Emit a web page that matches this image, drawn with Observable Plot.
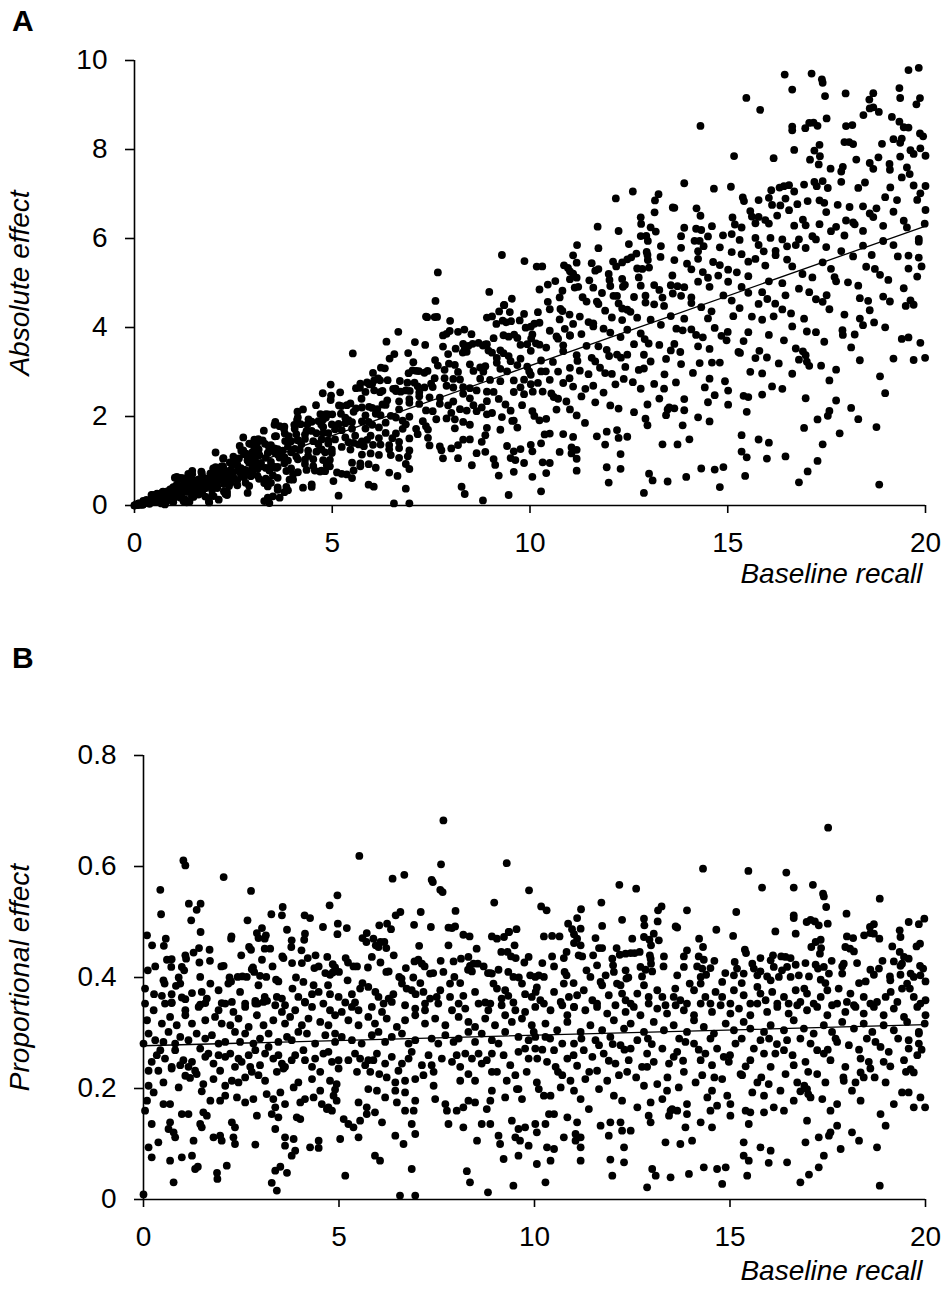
<!DOCTYPE html>
<html>
<head>
<meta charset="utf-8">
<script src="https://cdn.jsdelivr.net/npm/d3@7"></script>
<script src="https://cdn.jsdelivr.net/npm/@observablehq/plot@0.6"></script>
<style>
  html, body { margin: 0; padding: 0; background: #fff; }
  #wrap { position: relative; width: 946px; height: 1294px; background: #fff; font-family: "Liberation Sans", Arial, sans-serif; }
  .panel { position: absolute; left: 0; }
  .letter { position: absolute; left: 12px; font-weight: bold; font-size: 30px; line-height: 1; color: #000; z-index: 5; }
</style>
</head>
<body>
<div id="wrap">
  <div id="pa" class="panel" style="top:0px"></div>
  <div id="pb" class="panel" style="top:700px"></div>
  <div class="letter" style="top:6px">A</div>
  <div class="letter" style="top:643px">B</div>
</div>
<script>
// Tick labels
const xTicks = [0, 5, 10, 15, 20];
const yTicksAbsolute = [0, 2, 4, 6, 8, 10];
const yTicksProportional = [0, 0.2, 0.4, 0.6, 0.8];

// Fitted regression lines (end points)
const fitRecall = [0, 20];
const fitAbsolute = [0.0, 6.28];
const fitProportional = [0.277, 0.315];

// Participants: baseline recall and proportional effect
const recall1 = [7.67,5.52,1.02,1.07,7.61,9.29,2.05,6.37,6.67,7.37,7.40,7.59,7.65,0.43,2.75,9.86,4.96,4.76,1.16,1.46,1.36,8.97,0.45,3.56,3.54,3.27,4.12,4.26,7.98,6.45,6.57,7.09,2.66,1.22,4.97,4.96,5.20,4.59,6.03,6.23,6.33,6.92,7.35,7.80,7.97,7.89,9.54,9.34];
const prop1 = [0.683,0.619,0.611,0.602,0.604,0.606,0.581,0.578,0.585,0.576,0.572,0.558,0.554,0.558,0.556,0.557,0.548,0.530,0.533,0.533,0.522,0.535,0.514,0.527,0.512,0.514,0.512,0.507,0.520,0.512,0.518,0.518,0.503,0.503,0.497,0.478,0.489,0.491,0.494,0.497,0.487,0.495,0.491,0.490,0.492,0.489,0.487,0.482];
const recall2 = [0.09,0.57,1.46,2.90,3.03,3.13,2.94,3.10,2.25,2.24,3.67,4.13,4.11,3.79,5.60,5.71,5.70,5.88,5.94,6.06,6.16,6.21,6.01,8.18,8.34,8.91,9.04,9.22,9.35,7.80,7.05,0.22,0.52,1.42,1.28,1.69,2.70,2.75,3.10,3.24,3.78,4.04,9.49,9.15,9.31,9.40,9.52,8.52];
const prop2 = [0.476,0.470,0.482,0.480,0.489,0.476,0.471,0.470,0.474,0.470,0.486,0.479,0.468,0.467,0.471,0.480,0.464,0.470,0.458,0.464,0.464,0.453,0.455,0.477,0.474,0.474,0.470,0.473,0.482,0.458,0.457,0.458,0.457,0.453,0.445,0.450,0.455,0.450,0.452,0.452,0.455,0.449,0.458,0.446,0.446,0.438,0.435,0.452];
const recall3 = [1.07,1.09,0.60,0.72,0.71,1.43,1.99,2.05,2.77,2.80,3.03,3.55,3.58,3.80,4.05,4.20,4.37,4.48,4.70,4.84,4.90,4.84,5.17,5.23,5.37,5.46,5.84,5.74,6.06,6.21,6.27,6.71,6.93,7.03,7.12,7.19,7.93,8.12,8.31,8.35,8.30,8.44,8.55,8.40,8.91,8.81,9.08,9.74,9.85,9.33];
const prop3 = [0.440,0.434,0.432,0.433,0.419,0.427,0.420,0.421,0.415,0.418,0.432,0.438,0.435,0.426,0.426,0.435,0.417,0.420,0.437,0.424,0.418,0.409,0.435,0.427,0.420,0.420,0.437,0.418,0.427,0.410,0.411,0.417,0.429,0.432,0.425,0.420,0.429,0.434,0.437,0.421,0.414,0.425,0.425,0.411,0.407,0.408,0.414,0.427,0.437,0.410];
const recall4 = [0.11,0.51,0.54,1.45,0.98,1.04,2.41,2.53,2.64,2.83,2.98,3.14,3.39,3.45,4.65,4.77,5.22,6.54,6.60,7.33,7.41,7.67,7.95,8.87,9.46,9.89,10.02];
const prop4 = [0.413,0.395,0.389,0.401,0.419,0.413,0.401,0.402,0.401,0.410,0.403,0.401,0.396,0.393,0.408,0.405,0.395,0.401,0.398,0.407,0.408,0.410,0.401,0.408,0.401,0.404,0.401];
const recall5 = [0.04,0.27,0.47,0.72,0.72,0.83,0.94,1.24,0.98,1.07,1.49,1.45,1.62,1.71,1.92,2.00,2.26,2.17,2.24,2.47,2.60,2.86,2.92,3.10,3.16,2.94,3.41,3.54,3.62,3.81,3.96,4.09,4.13,4.31,4.48,4.35,4.72,4.77,4.99,5.16,5.33,5.41];
const prop5 = [0.380,0.370,0.367,0.370,0.355,0.385,0.389,0.372,0.364,0.361,0.374,0.351,0.362,0.389,0.377,0.354,0.356,0.389,0.393,0.374,0.353,0.358,0.353,0.365,0.358,0.386,0.365,0.362,0.350,0.380,0.365,0.392,0.355,0.370,0.374,0.386,0.386,0.370,0.365,0.355,0.370,0.355];
const recall6 = [5.54,5.75,5.93,6.01,6.14,6.27,6.39,6.61,6.73,6.86,6.96,7.16,7.20,7.33,7.08,7.50,7.59,7.84,7.84,8.06,8.18,8.48,8.74,8.87,8.95,9.04,9.25,9.16,9.33,9.46,9.68,9.76,9.93,10.06];
const prop6 = [0.380,0.383,0.374,0.365,0.353,0.362,0.370,0.389,0.380,0.377,0.370,0.374,0.353,0.362,0.390,0.365,0.377,0.389,0.365,0.353,0.367,0.374,0.355,0.353,0.389,0.380,0.377,0.362,0.367,0.355,0.389,0.370,0.365,0.382];
const recall7 = [0.04,0.26,0.55,0.72,1.07,1.41,1.58,1.92,2.09,2.30,2.60,2.86,3.07,3.37,3.54,3.88,4.13,4.31,4.60,4.77,5.07,5.33,5.50,5.84,6.10,6.35,6.69,6.95,7.20,7.54,7.89,8.23,8.57,8.82,9.16,9.51,9.76,10.02];
const prop7 = [0.353,0.341,0.353,0.354,0.341,0.347,0.354,0.341,0.353,0.338,0.347,0.353,0.356,0.350,0.338,0.341,0.356,0.347,0.353,0.341,0.338,0.347,0.341,0.347,0.338,0.356,0.350,0.344,0.341,0.353,0.341,0.344,0.353,0.341,0.350,0.341,0.338,0.347];
const recall8 = [0.09,0.47,0.68,0.85,1.07,1.24,1.58,1.83,2.00,2.22,2.43,2.69,2.90,3.07,3.32,3.62,3.75,4.05,4.22,4.52,4.73,4.90,5.24,5.50,5.75,5.92,6.22,6.48,6.69,6.95,7.20,7.46,7.72,8.06,8.31,8.48,8.74,8.99,9.25,9.42,9.68,9.93];
const prop8 = [0.323,0.317,0.329,0.314,0.332,0.317,0.323,0.329,0.317,0.314,0.326,0.311,0.332,0.314,0.323,0.317,0.329,0.314,0.326,0.320,0.314,0.332,0.323,0.314,0.329,0.317,0.326,0.311,0.323,0.332,0.317,0.326,0.314,0.329,0.320,0.311,0.326,0.314,0.332,0.320,0.326,0.314];
const recall9 = [0.13,0.30,0.64,0.94,1.36,1.58,1.75,2.09,2.34,2.60,2.98,3.20,3.45,3.67,3.96,4.18,4.65,4.90,5.07,5.33,5.84,6.01,6.35,6.61,6.95,7.37,7.72,8.06,8.31,8.65,8.91,9.25,9.59,9.85];
const prop9 = [0.299,0.287,0.302,0.293,0.299,0.290,0.296,0.284,0.302,0.299,0.290,0.299,0.284,0.293,0.302,0.299,0.296,0.299,0.293,0.287,0.296,0.302,0.293,0.299,0.287,0.290,0.296,0.290,0.302,0.299,0.287,0.302,0.293,0.287];
const recall10 = [0.21,0.43,0.55,0.72,0.94,1.15,1.24,1.45,1.66,1.92,2.09,2.34,2.43,2.73,2.86,3.20,3.32,3.54,3.79,4.09,4.13,4.31,4.60,4.82,4.99,5.41,5.54,5.75,5.97,6.18,6.61,6.86,7.12,7.63,7.89,8.23,8.40,8.57,8.65,8.91,9.04,9.59,9.85,10.02];
const prop10 = [0.248,0.269,0.254,0.239,0.242,0.239,0.248,0.272,0.263,0.260,0.257,0.239,0.254,0.239,0.269,0.275,0.254,0.245,0.251,0.269,0.251,0.239,0.263,0.248,0.251,0.263,0.254,0.251,0.263,0.245,0.245,0.266,0.242,0.254,0.248,0.263,0.254,0.263,0.245,0.263,0.230,0.266,0.254,0.272];
const recall11 = [0.13,0.13,0.38,0.51,0.72,0.90,1.07,1.19,1.36,1.53,1.79,1.96,2.09,2.26,2.43,2.60,2.77,2.94,3.11,3.41,3.58,3.84,3.96,4.31,4.52,4.77,4.94,4.90,5.46,5.80,6.03,6.22,6.44,6.69,6.95,7.16,7.42,7.42,8.10,8.31,8.48,8.91,9.29,9.51,9.55,9.80,10.06];
const prop11 = [0.232,0.205,0.232,0.211,0.236,0.202,0.223,0.219,0.226,0.208,0.217,0.232,0.205,0.214,0.211,0.220,0.230,0.224,0.214,0.230,0.236,0.202,0.211,0.217,0.196,0.214,0.208,0.198,0.230,0.230,0.226,0.220,0.211,0.214,0.217,0.224,0.230,0.205,0.214,0.226,0.214,0.230,0.214,0.224,0.199,0.230,0.211];
const recall12 = [0.09,0.26,0.51,0.68,0.98,1.15,1.49,1.71,1.96,2.09,2.39,2.60,2.81,3.15,3.32,3.50,3.37,3.62,4.01,4.13,4.35,4.56,4.73,4.86,4.94,4.82,5.50,5.75,5.71,5.97,6.18,6.48,6.44,6.69,6.91,6.95,7.46,7.72,7.76,8.01,8.18,8.31,8.48,8.78,8.87,8.91,9.25,9.59,9.68];
const prop12 = [0.178,0.193,0.172,0.172,0.154,0.154,0.195,0.178,0.178,0.187,0.184,0.175,0.181,0.190,0.181,0.193,0.166,0.172,0.175,0.181,0.184,0.172,0.166,0.187,0.178,0.160,0.175,0.199,0.166,0.196,0.184,0.175,0.196,0.193,0.160,0.178,0.181,0.172,0.160,0.160,0.166,0.178,0.175,0.163,0.178,0.196,0.184,0.199,0.181];
const recall13 = [0.21,0.04,0.68,0.77,1.45,1.53,1.62,1.49,2.26,2.34,2.90,3.28,3.45,3.92,4.01,4.69,5.12,5.24,5.37,5.54,5.71,5.92,6.10,6.69,6.86,6.95,7.80,8.18,8.65,8.87,9.42,9.76,10.02,0.81,0.64,1.79,1.96,2.00,2.30,3.37,3.62,3.84,5.03,5.50,6.44,9.08,9.51,9.59,10.06];
const prop13 = [0.136,0.160,0.139,0.121,0.136,0.157,0.151,0.130,0.139,0.130,0.151,0.154,0.148,0.148,0.145,0.163,0.145,0.136,0.130,0.142,0.154,0.157,0.139,0.160,0.136,0.118,0.136,0.130,0.136,0.136,0.142,0.130,0.136,0.112,0.127,0.112,0.115,0.106,0.112,0.127,0.112,0.109,0.109,0.112,0.115,0.115,0.112,0.127,0.121];
const recall14 = [0.13,0.38,1.28,1.24,2.34,2.86,3.62,3.79,3.88,4.26,4.48,4.48,6.65,8.53,9.12,9.63,9.85,0.21,0.98,0.68,1.32,2.13,5.92,6.05,9.21,9.59,10.06];
const prop14 = [0.094,0.103,0.106,0.079,0.100,0.099,0.097,0.079,0.088,0.094,0.093,0.106,0.100,0.106,0.100,0.106,0.097,0.076,0.076,0.070,0.055,0.061,0.079,0.070,0.073,0.079,0.064];
const recall15 = [1.39,1.88,1.89,0.77,3.37,3.50,3.67,3.28,3.41,5.16,6.86,8.27,8.35,9.46,8.81,6.56,6.95,0.00];
const prop15 = [0.059,0.048,0.037,0.031,0.052,0.059,0.048,0.030,0.016,0.043,0.055,0.051,0.031,0.025,0.013,0.007,0.007,0.009];
const recall16 = [17.51,14.31,15.47,16.44,12.17,12.60,15.82,16.63,17.12,17.38,17.40,18.83,11.71,10.17,10.31,11.19,13.90,15.16,17.46,17.98,13.16,13.25,12.24,12.80,12.81,13.15,11.09,10.86,11.18,10.96,11.01,11.09,11.73];
const prop16 = [0.670,0.596,0.592,0.589,0.567,0.560,0.562,0.562,0.567,0.551,0.546,0.542,0.535,0.528,0.521,0.523,0.521,0.518,0.527,0.515,0.521,0.528,0.504,0.506,0.494,0.501,0.507,0.497,0.488,0.487,0.478,0.470,0.493];
const recall17 = [16.63,16.63,16.96,17.06,17.17,17.27,17.50,19.57,19.83,19.97,18.58,18.68,19.34,13.61,13.65,14.65,16.16,16.68,15.08,10.24,10.45,10.64,11.56,12.50,12.80,12.94,13.05,13.18,12.98,14.21,18.43,18.59,18.68,18.82,17.99,18.15,19.36];
const prop17 = [0.512,0.507,0.500,0.504,0.501,0.494,0.497,0.500,0.496,0.506,0.491,0.496,0.485,0.492,0.490,0.486,0.483,0.479,0.475,0.474,0.475,0.474,0.471,0.470,0.473,0.468,0.479,0.467,0.458,0.470,0.476,0.480,0.479,0.470,0.474,0.471,0.473];
const recall18 = [17.19,17.32,17.33,17.30,11.18,11.01,11.13,11.22,10.82,10.75,11.65,11.73,10.45,12.10,12.18,12.33,12.46,12.56,12.69,12.95,12.97,13.31,14.31,14.20,14.33,13.82,13.90,15.38,15.41,15.78,16.04,16.31,16.42,16.55,17.08,17.95,18.07,18.17,19.15,19.77,19.86,19.34,19.45,19.57,19.36,19.40,19.19,19.86];
const prop18 = [0.464,0.468,0.453,0.443,0.458,0.462,0.440,0.438,0.446,0.435,0.453,0.453,0.438,0.453,0.441,0.443,0.444,0.444,0.446,0.440,0.434,0.438,0.455,0.438,0.432,0.438,0.449,0.450,0.444,0.435,0.431,0.438,0.437,0.435,0.455,0.455,0.452,0.447,0.456,0.456,0.461,0.446,0.437,0.434,0.421,0.425,0.429,0.421];
const recall19 = [10.20,10.77,10.82,10.75,11.33,11.43,11.60,11.69,11.82,11.99,12.01,12.03,12.33,12.35,12.20,12.71,12.84,12.75,12.98,13.01,13.65,13.82,13.97,14.16,14.29,14.39,14.25,14.50,14.80,14.88,15.12,15.10,15.18,15.35];
const prop19 = [0.426,0.410,0.404,0.389,0.413,0.401,0.422,0.392,0.404,0.434,0.422,0.410,0.413,0.398,0.386,0.419,0.414,0.402,0.425,0.411,0.404,0.419,0.389,0.420,0.416,0.405,0.401,0.417,0.392,0.408,0.428,0.404,0.416,0.407];
const recall20 = [15.57,15.61,15.70,15.78,15.95,16.04,16.12,16.25,16.33,16.46,16.55,16.68,16.76,16.93,17.02,17.19,17.25,17.40,17.53,17.32,17.44,17.87,17.91,17.87,18.25,18.59,18.68,18.47,18.81,19.09,19.10,19.62,19.70,19.94,19.87,20.00,19.36];
const prop20 = [0.425,0.416,0.404,0.411,0.402,0.395,0.419,0.401,0.413,0.419,0.401,0.423,0.404,0.426,0.402,0.423,0.416,0.419,0.407,0.396,0.390,0.420,0.425,0.407,0.426,0.414,0.405,0.393,0.416,0.402,0.395,0.407,0.401,0.416,0.404,0.393,0.405];
const recall21 = [10.11,10.24,10.03,10.15,10.50,10.67,10.88,11.01,11.09,11.26,11.48,11.60,11.73,11.90,12.11,12.24,12.33,12.46,12.63,12.80,12.92,13.14,13.27,13.35,13.56,13.73,13.90,14.08,14.25,14.37,14.50,14.63,14.80];
const prop21 = [0.404,0.401,0.374,0.359,0.374,0.356,0.365,0.347,0.368,0.377,0.359,0.347,0.386,0.368,0.389,0.371,0.359,0.353,0.371,0.386,0.365,0.377,0.365,0.350,0.365,0.359,0.353,0.377,0.389,0.365,0.353,0.374,0.365];
const recall22 = [15.01,15.10,15.35,15.52,15.70,15.78,15.91,16.08,16.21,16.38,16.50,16.68,16.80,16.97,17.14,17.32,17.49,17.61,17.78,17.99,18.08,18.21,18.42,18.59,18.76,18.98,19.11,19.28,19.40,19.53,19.70,19.87,20.00];
const prop22 = [0.353,0.377,0.368,0.353,0.383,0.371,0.359,0.374,0.353,0.365,0.353,0.377,0.356,0.371,0.353,0.365,0.377,0.350,0.380,0.356,0.371,0.347,0.365,0.353,0.356,0.365,0.374,0.356,0.380,0.389,0.365,0.353,0.359];
const recall23 = [10.24,10.41,10.71,10.84,11.01,11.30,11.60,11.86,12.07,12.33,12.54,12.71,12.92,13.14,13.39,13.61,13.82,14.08,14.25,14.54,14.76,15.01,15.23,15.52,15.70,15.95,16.21,16.50,16.72,16.97,17.23,17.49,17.74,17.95,18.17,18.42,18.68,18.93,19.19,19.45,19.79,20.00];
const prop23 = [0.353,0.341,0.350,0.332,0.347,0.341,0.353,0.335,0.350,0.338,0.347,0.332,0.353,0.344,0.335,0.350,0.341,0.332,0.353,0.338,0.350,0.335,0.344,0.332,0.353,0.338,0.347,0.335,0.350,0.341,0.347,0.332,0.353,0.338,0.350,0.335,0.347,0.332,0.344,0.329,0.347,0.332];
const recall24 = [9.98,10.28,10.58,10.84,11.18,11.43,11.73,12.03,12.29,12.46,12.80,13.05,13.31,13.56,13.90,14.08,14.33,14.59,14.89,15.10,15.35,15.52,15.87,16.04,16.38,16.63,16.89,17.14,17.40,17.61,17.87,18.17,18.42,18.64,18.93,19.19,19.53,19.83,19.98];
const prop24 = [0.302,0.317,0.305,0.320,0.302,0.314,0.305,0.323,0.308,0.317,0.302,0.320,0.305,0.314,0.302,0.323,0.311,0.299,0.317,0.305,0.320,0.308,0.302,0.314,0.305,0.323,0.308,0.299,0.314,0.302,0.320,0.308,0.317,0.302,0.314,0.305,0.320,0.302,0.317];
const recall25 = [10.07,10.28,10.32,10.54,10.50,10.71,10.84,11.01,11.09,11.26,11.48,11.56,11.65,11.77,11.94,12.07,12.20,12.41,12.46,12.63,12.75,12.88,13.05,13.27,13.44,13.56,13.65,13.86,14.08,14.25,14.37,14.54];
const prop25 = [0.254,0.293,0.248,0.239,0.269,0.281,0.254,0.281,0.241,0.269,0.257,0.287,0.278,0.263,0.293,0.245,0.278,0.251,0.272,0.287,0.239,0.263,0.248,0.272,0.245,0.257,0.266,0.284,0.281,0.251,0.263,0.242];
const recall26 = [14.67,14.84,14.97,15.14,15.31,15.52,15.61,15.78,15.87,16.04,16.16,16.38,16.46,16.63,16.93,17.06,17.23,17.40,17.57,17.74,17.95,18.04,18.34,18.55,18.72,18.85,19.06,19.45,19.57,19.83,19.79];
const prop26 = [0.272,0.257,0.248,0.281,0.224,0.251,0.272,0.287,0.263,0.239,0.263,0.269,0.287,0.242,0.248,0.281,0.269,0.263,0.251,0.284,0.239,0.278,0.254,0.248,0.284,0.275,0.266,0.251,0.272,0.281,0.260];
const recall27 = [10.11,10.24,10.41,10.50,10.67,10.71,10.92,11.01,11.18,11.30,11.39,11.60,11.65,11.86,12.03,12.16,12.24,12.37,12.63,12.80,12.88,12.97,13.14,13.27,13.39,13.52,13.69,13.82,13.90,14.12,14.29,14.42,14.54,14.67,14.80,14.93,15.01];
const prop27 = [0.199,0.187,0.187,0.154,0.202,0.224,0.214,0.196,0.181,0.217,0.163,0.232,0.199,0.214,0.187,0.224,0.178,0.230,0.166,0.205,0.239,0.175,0.208,0.181,0.196,0.163,0.202,0.230,0.172,0.211,0.224,0.184,0.196,0.169,0.217,0.187,0.172];
const recall28 = [15.27,15.40,15.57,15.70,15.87,15.99,16.12,16.29,16.42,16.63,16.72,16.97,17.06,17.23,17.36,17.44,17.57,17.74,17.91,18.12,18.21,18.34,18.98,19.19,19.40,19.57,19.70,19.87,19.99,19.62,19.70,19.57,19.83,18.93,18.59,18.42,18.34];
const prop28 = [0.226,0.160,0.193,0.211,0.187,0.208,0.166,0.196,0.226,0.178,0.211,0.199,0.184,0.226,0.181,0.211,0.160,0.172,0.214,0.196,0.211,0.178,0.211,0.172,0.193,0.193,0.166,0.184,0.166,0.235,0.229,0.287,0.299,0.248,0.236,0.220,0.229];
const recall29 = [10.28,10.32,10.50,10.84,10.75,11.09,11.18,11.05,11.69,11.94,12.20,12.24,12.46,12.92,12.97,13.35,13.44,13.48,13.73,13.86,14.03,14.25,14.54,15.35,15.48,15.52,15.78,16.04,16.93,17.27,17.53,17.74,17.83,18.12,18.30,18.76,18.85,18.98];
const prop29 = [0.136,0.094,0.091,0.148,0.112,0.139,0.112,0.106,0.133,0.139,0.139,0.124,0.124,0.151,0.139,0.103,0.151,0.160,0.100,0.130,0.106,0.139,0.130,0.103,0.136,0.157,0.094,0.088,0.103,0.112,0.115,0.133,0.091,0.121,0.106,0.094,0.154,0.133];
const recall30 = [10.28,10.41,11.18,11.94,12.29,11.99,12.88,13.01,13.10,13.48,13.95,14.33,14.67,14.89,14.80,15.35,15.48,15.44,15.99,16.46,16.80,17.02,17.27,17.40,18.83,10.37,11.05,11.90,12.29,11.18,13.65,13.90,14.50,15.01,15.87,16.38,16.97,17.57];
const prop30 = [0.031,0.070,0.070,0.072,0.067,0.043,0.022,0.055,0.043,0.040,0.046,0.058,0.055,0.058,0.028,0.079,0.070,0.043,0.066,0.067,0.031,0.045,0.058,0.079,0.025,0.154,0.118,0.115,0.094,0.094,0.160,0.154,0.160,0.151,0.157,0.160,0.142,0.121];
const recall31 = [0.34,0.81,1.02,1.32,1.58,1.79,2.22,2.51,2.69,2.98,3.11,3.45,3.62,3.88,4.39,4.52,4.73,4.99,5.24,5.67,5.88,6.35,6.52,6.78,7.29,7.37,8.01,8.10,8.78,9.21,9.38,9.76];
const prop31 = [0.260,0.269,0.251,0.232,0.257,0.245,0.263,0.248,0.260,0.242,0.263,0.260,0.239,0.260,0.254,0.230,0.266,0.236,0.251,0.242,0.251,0.257,0.232,0.254,0.260,0.242,0.260,0.239,0.251,0.260,0.242,0.272];
const recall32 = [0.00,0.51,0.81,1.15,1.92,2.47,2.81,3.79,4.39,4.90,5.58,6.18,6.78,7.54,7.93,8.48,9.08,10.02];
const prop32 = [0.281,0.284,0.281,0.287,0.281,0.284,0.281,0.287,0.281,0.284,0.281,0.284,0.281,0.281,0.284,0.284,0.281,0.293];
const recall33 = [10.2,10.6,11.0,11.4,11.9,12.3,12.6,13.0,13.4,13.8,14.2,14.6,15.0,15.4,15.8,16.2,16.6,17.0,17.5,17.9,18.3,18.7,19.1,19.5,19.9,10.4,11.2,12.0,12.9,13.7,14.5,15.3,16.0,16.8,17.7,18.5,19.3,16.9,17.0,16.8];
const prop33 = [0.270,0.230,0.260,0.230,0.250,0.270,0.220,0.280,0.220,0.250,0.270,0.220,0.260,0.240,0.220,0.280,0.260,0.230,0.270,0.220,0.270,0.220,0.240,0.230,0.270,0.290,0.290,0.280,0.290,0.290,0.290,0.290,0.290,0.290,0.290,0.290,0.290,0.205,0.190,0.195];
const recall34 = [0.3,0.9,1.7,2.2,2.5,3.3,3.9,4.4,5.0,5.6,6.4,6.9,7.6,8.1,8.7,9.6,10.5,11.0,11.5,12.4,13.3,13.6,14.6,15.3,16.1,16.9,17.6,18.3,18.9,19.6];
const prop34 = [0.420,0.400,0.430,0.400,0.440,0.420,0.400,0.440,0.410,0.390,0.440,0.400,0.430,0.390,0.420,0.400,0.420,0.390,0.440,0.400,0.420,0.380,0.430,0.390,0.440,0.380,0.430,0.390,0.430,0.380];

const recallGroups = [recall1,recall2,recall3,recall4,recall5,recall6,recall7,recall8,recall9,recall10,recall11,recall12,recall13,recall14,recall15,recall16,recall17,recall18,recall19,recall20,recall21,recall22,recall23,recall24,recall25,recall26,recall27,recall28,recall29,recall30,recall31,recall32,recall33,recall34];
const propGroups = [prop1,prop2,prop3,prop4,prop5,prop6,prop7,prop8,prop9,prop10,prop11,prop12,prop13,prop14,prop15,prop16,prop17,prop18,prop19,prop20,prop21,prop22,prop23,prop24,prop25,prop26,prop27,prop28,prop29,prop30,prop31,prop32,prop33,prop34];

// Table: absolute effect = baseline recall x proportional effect
const table = [];
recallGroups.forEach((xs, g) => {
  const ps = propGroups[g];
  const n = Math.min(xs.length, ps.length);
  for (let i = 0; i < n; i++) table.push({recall: xs[i], proportional: ps[i], absolute: xs[i] * ps[i]});
});
const tableA = table.filter(d => d.absolute <= 10.05);
const fitTable = fitRecall.map((x, i) => ({recall: x, absolute: fitAbsolute[i], proportional: fitProportional[i]}));

const FONT = '"Liberation Sans", Arial, Helvetica, sans-serif';
const FS = 28;

function panel({yField, yDomain, yTicks, yFormat, yLabel, height, marginTop, marginLeft, data, labelDx, titleDy}) {
  return Plot.plot({
    width: 946,
    height,
    marginTop,
    marginBottom: 95,
    marginLeft,
    marginRight: 21,
    style: {fontFamily: FONT, fontSize: FS + "px", color: "#000", background: "#fff", overflow: "visible"},
    x: {domain: [0, 20]},
    y: {domain: yDomain},
    marks: [
      Plot.axisX({ticks: xTicks, tickSize: 8, tickPadding: 19, fontSize: FS, label: null, strokeWidth: 1.6, tickFormat: d => String(d)}),
      Plot.axisY({ticks: yTicks, tickSize: 9, tickPadding: 18, fontSize: FS, label: null, strokeWidth: 1.6, tickFormat: yFormat}),
      Plot.ruleY([yDomain[0]], {strokeWidth: 1.6}),
      Plot.ruleX([0], {strokeWidth: 1.6}),
      Plot.dot(data, {x: "recall", y: yField, r: 3.9, fill: "#000"}),
      Plot.line(fitTable, {x: "recall", y: yField, stroke: "#000", strokeWidth: 1.3}),
      Plot.text(["Baseline recall"], {text: d => d, frameAnchor: "bottom-right", dx: -3, dy: titleDy, textAnchor: "end", fontStyle: "italic", fontSize: FS}),
      Plot.text([yLabel], {text: d => d, frameAnchor: "left", dx: labelDx, rotate: -90, textAnchor: "middle", fontStyle: "italic", fontSize: FS})
    ]
  });
}

document.getElementById("pa").appendChild(panel({
  yField: "absolute", yDomain: [0, 10], yTicks: yTicksAbsolute, yFormat: d => String(d),
  yLabel: "Absolute effect", height: 600, marginTop: 60, marginLeft: 134, data: tableA, labelDx: -114, titleDy: 77
}));
document.getElementById("pb").appendChild(panel({
  yField: "proportional", yDomain: [0, 0.8], yTicks: yTicksProportional, yFormat: d => d === 0 ? "0" : d.toFixed(1),
  yLabel: "Proportional effect", height: 594, marginTop: 55, marginLeft: 143, data: table, labelDx: -123, titleDy: 80
}));
</script>
</body>
</html>
